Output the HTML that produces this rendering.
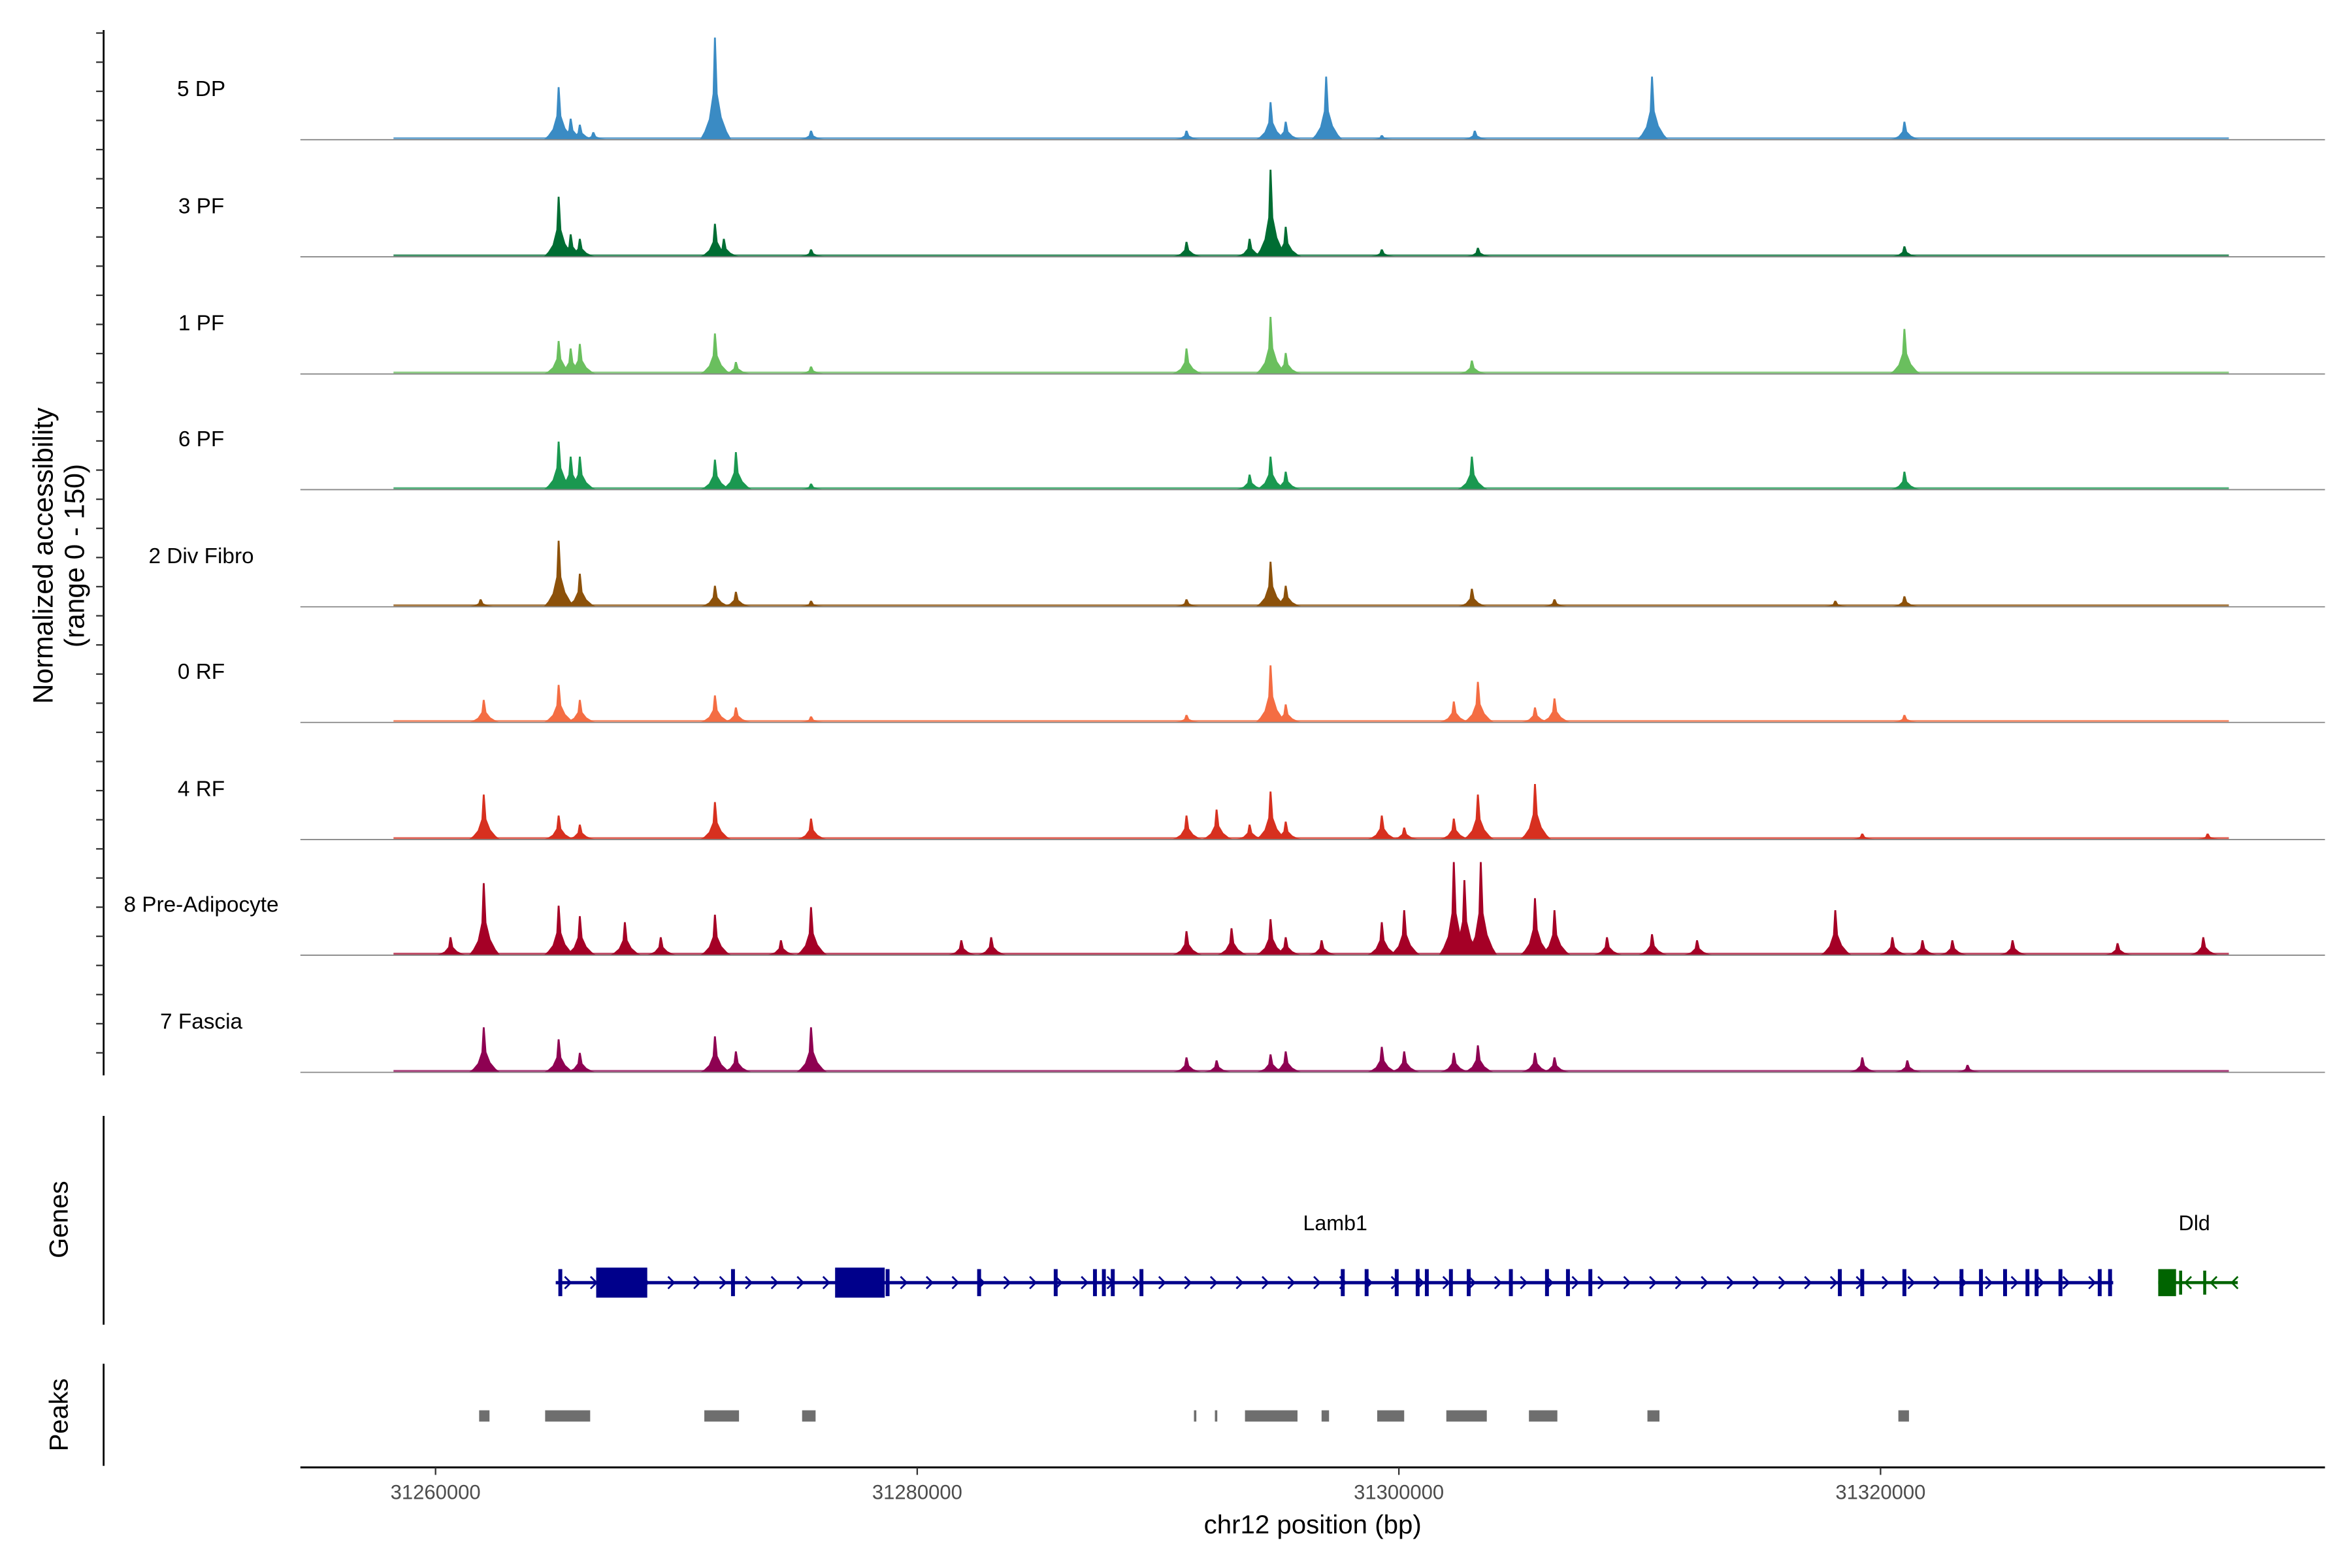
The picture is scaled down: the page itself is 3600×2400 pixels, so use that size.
<!DOCTYPE html>
<html><head><meta charset="utf-8"><style>
html,body{margin:0;padding:0;background:#fff;}
svg{display:block;font-family:"Liberation Sans",Arial,sans-serif;}
</style></head><body>
<svg id="chart" width="3600" height="2400" viewBox="0 0 1566 1044" preserveAspectRatio="none" xmlns="http://www.w3.org/2000/svg">
<rect width="1566" height="1044" fill="#fff"/>
<g id="tracks"></g>
<g id="genes"></g>
<g id="peaks"></g>
<g id="axes"></g>
</svg>
<script>
// ---- data (positions in kb, values normalized 0-150) ----
const trackNames = ["5 DP","3 PF","1 PF","6 PF","2 Div Fibro","0 RF","4 RF","8 Pre-Adipocyte","7 Fascia"];
const trackColors = ["#3a8bc4","#006d33","#6abf5e","#1a9850","#8c510a","#f46d43","#d7301f","#a50026","#8e0152"];
const pos5DP = [31265.11,31265.61,31265.99,31266.55,31271.60,31275.59,31291.18,31294.67,31295.30,31296.98,31299.29,31303.15,31310.51,31320.99];
const val5DP = [70,28,20,10,136,12,12,50,24,84,6,12,84,24];
const pos3PF = [31265.11,31265.61,31265.99,31271.60,31271.97,31275.59,31291.18,31293.80,31294.67,31295.30,31299.29,31303.28,31320.99];
const val3PF = [80,30,24,44,24,10,20,24,116,40,10,12,14];
const pos1PF = [31265.11,31265.61,31265.99,31271.60,31272.47,31275.59,31291.18,31294.67,31295.30,31303.03,31320.99];
const val1PF = [44,34,40,54,16,10,34,76,28,18,60];
const pos6PF = [31265.11,31265.61,31265.99,31271.60,31272.47,31275.59,31293.80,31294.67,31295.30,31303.03,31320.99];
const val6PF = [64,44,44,40,50,8,20,44,24,44,24];
const pos2Div = [31261.87,31265.11,31265.99,31271.60,31272.47,31275.59,31291.18,31294.67,31295.30,31303.03,31306.46,31318.12,31320.99];
const val2Div = [10,88,44,28,20,8,10,60,28,24,10,8,14];
const pos0RF = [31262.00,31265.11,31265.99,31271.60,31272.47,31275.59,31291.18,31294.67,31295.30,31302.28,31303.28,31305.65,31306.46,31320.99];
const val0RF = [30,50,30,36,20,8,10,76,24,28,54,20,32,10];
const pos4RF = [31262.00,31265.11,31265.99,31271.60,31275.59,31291.18,31292.43,31293.80,31294.67,31295.30,31299.29,31300.22,31302.28,31303.28,31305.65,31319.24,31333.58];
const val4RF = [60,32,20,50,28,32,40,20,64,24,32,16,28,60,74,8,8];
const pos8PA = [31260.62,31262.00,31265.11,31265.99,31267.86,31269.35,31271.60,31274.34,31275.59,31281.83,31283.07,31291.18,31293.05,31294.67,31295.30,31296.79,31299.29,31300.22,31302.28,31302.72,31303.40,31305.65,31306.46,31308.64,31310.51,31312.38,31318.12,31320.49,31321.74,31322.98,31325.48,31329.84,31333.40];
const val8PA = [24,96,66,52,44,24,54,20,64,20,24,32,36,48,24,20,44,60,124,100,124,76,60,24,28,20,60,24,20,20,20,16,24];
const pos7Fa = [31262.00,31265.11,31265.99,31271.60,31272.47,31275.59,31291.18,31292.43,31294.67,31295.30,31299.29,31300.22,31302.28,31303.28,31305.65,31306.46,31319.24,31321.11,31323.61];
const val7Fa = [60,44,26,48,28,60,20,16,24,28,34,28,26,36,26,20,20,16,10];
const trackPos = [pos5DP,pos3PF,pos1PF,pos6PF,pos2Div,pos0RF,pos4RF,pos8PA,pos7Fa];
const trackVal = [val5DP,val3PF,val1PF,val6PF,val2Div,val0RF,val4RF,val8PA,val7Fa];
const xTicks = [31260000,31280000,31300000,31320000];
const xTickLabels = ["31260000","31280000","31300000","31320000"];
const geneSpan = [31264.99,31329.66];
const geneBigExonsStart = [31266.67,31276.59];
const geneBigExonsEnd = [31268.79,31278.65];
const geneExons = [31265.18,31272.35,31278.77,31282.57,31285.75,31287.38,31287.75,31288.12,31289.31,31297.67,31298.66,31299.91,31300.78,31301.16,31302.16,31302.90,31304.65,31306.15,31307.02,31307.95,31318.31,31319.24,31320.99,31323.36,31324.17,31325.17,31326.10,31326.48,31327.47,31329.10,31329.53];
const dldSpan = [31331.53,31334.83];
const dldExon = [31331.53,31332.27];
const dldSmall = [31332.46,31333.46];
const peakStart = [31261.81,31264.55,31271.16,31275.22,31291.49,31292.36,31293.61,31296.79,31299.10,31301.97,31305.40,31310.32,31320.74];
const peakEnd = [31262.24,31266.42,31272.60,31275.78,31291.59,31292.46,31295.79,31297.10,31300.22,31303.65,31306.58,31310.82,31321.18];

// ---- scales ----
const NS="http://www.w3.org/2000/svg";
function x(kb){return 290+(kb-31260)*16.035;}
function xbp(bp){return x(bp/1000);}
const baseY=[93,171,249,326,404,481,559,636,714];
function yh(v){return v*0.5;}
function mk(tag,attrs,parent){const e=document.createElementNS(NS,tag);for(const k in attrs)e.setAttribute(k,attrs[k]);parent.appendChild(e);return e;}

const tracksG=document.getElementById('tracks');
trackNames.forEach((nm,i)=>{
  const g=mk('g',{},tracksG);
  
  
  const b=baseY[i];
  const bg=mk('rect',{x:262,y:b-1.6,width:1222,height:1.6,fill:trackColors[i],opacity:0.75},g);
  
  
  trackPos[i].forEach((p,j)=>{
    const cx=x(p),h=yh(trackVal[i][j]);
    const pts=[[cx-10,b],[cx-7,b-h*0.08],[cx-4,b-h*0.2],[cx-1.5,b-h*0.45],[cx-0.6,b-h],[cx+0.6,b-h],[cx+1.8,b-h*0.45],[cx+4.5,b-h*0.22],[cx+8,b-h*0.08],[cx+11,b]].map(q=>q.join(',')).join(' ');
    const pk=mk('polygon',{points:pts,fill:trackColors[i]},g);
    
    
  });
  const bl=mk('line',{x1:200,x2:1548,y1:b,y2:b,stroke:'#888','stroke-width':0.8},g);
  
  
  const t=mk('text',{x:134,y:b-29,'text-anchor':'middle','font-size':14.5,fill:'#000'},g);
  t.textContent=nm;
  
  
});

// ---- genes ----
const gG=document.getElementById('genes');
const gy=854;
const gl=mk('line',{x1:x(geneSpan[0]),x2:x(geneSpan[1]),y1:gy,y2:gy,stroke:'#00008b','stroke-width':2.2},gG);


for(let cx=x(geneSpan[0])+8;cx<x(geneSpan[1])-4;cx+=17.2){
  const c=mk('polyline',{points:`${cx-2},${gy-4} ${cx+2},${gy} ${cx-2},${gy+4}`,fill:'none',stroke:'#00008b','stroke-width':1.2},gG);
  
  
}
geneBigExonsStart.forEach((s,i)=>{
  const r=mk('rect',{x:x(s),y:gy-10,width:x(geneBigExonsEnd[i])-x(s),height:20,fill:'#00008b'},gG);
  
  
});
geneExons.forEach(p=>{
  const r=mk('rect',{x:x(p)-1.3,y:gy-9,width:2.6,height:18,fill:'#00008b'},gG);
  
  
});
const dl=mk('line',{x1:x(dldSpan[0]),x2:x(dldSpan[1]),y1:gy,y2:gy,stroke:'#006400','stroke-width':2},gG);


const de=mk('rect',{x:x(dldExon[0]),y:gy-9,width:x(dldExon[1])-x(dldExon[0]),height:18,fill:'#006400'},gG);


dldSmall.forEach(p=>{
  const r=mk('rect',{x:x(p)-1,y:gy-8,width:2,height:16,fill:'#006400'},gG);
  
  
});
[1457,1474,1488].forEach(cx=>{
  const c=mk('polyline',{points:`${cx+2},${gy-4} ${cx-2},${gy} ${cx+2},${gy+4}`,fill:'none',stroke:'#006400','stroke-width':1.2},gG);
  
  
});
const l1=mk('text',{x:889,y:819,'text-anchor':'middle','font-size':14,fill:'#000'},gG);
l1.textContent='Lamb1';


const l2=mk('text',{x:1461,y:819,'text-anchor':'middle','font-size':14,fill:'#000'},gG);
l2.textContent='Dld';



// ---- peaks ----
const pG=document.getElementById('peaks');
peakStart.forEach((s,i)=>{
  const w=Math.max(1.2,x(peakEnd[i])-x(s));
  const r=mk('rect',{x:x(s),y:939,width:w,height:7.5,fill:'#6e6e6e'},pG);
  
  
});

// ---- axes ----
const aG=document.getElementById('axes');
const ya=mk('line',{x1:69,x2:69,y1:20,y2:716,stroke:'#000','stroke-width':1.2},aG);


for(let i=0;i<36;i++){
  const ty=22+i*19.4;
  const t=mk('line',{x1:64,x2:69,y1:ty,y2:ty,stroke:'#333','stroke-width':1},aG);
  
  
}
const yt=mk('text',{transform:'translate(35,370) rotate(-90)','text-anchor':'middle','font-size':18.5,fill:'#000'},aG);
yt.textContent='Normalized accessibility';


const yt2=mk('text',{transform:'translate(56,370) rotate(-90)','text-anchor':'middle','font-size':18.5,fill:'#000'},aG);
yt2.textContent='(range 0 - 150)';


const ga=mk('line',{x1:69,x2:69,y1:743,y2:882,stroke:'#000','stroke-width':1.2},aG);


const gt=mk('text',{transform:'translate(45,812) rotate(-90)','text-anchor':'middle','font-size':17.5,fill:'#000'},aG);
gt.textContent='Genes';


const pa=mk('line',{x1:69,x2:69,y1:908,y2:976,stroke:'#000','stroke-width':1.2},aG);


const pt=mk('text',{transform:'translate(45,942) rotate(-90)','text-anchor':'middle','font-size':17.5,fill:'#000'},aG);
pt.textContent='Peaks';


const xa=mk('line',{x1:200,x2:1548,y1:977,y2:977,stroke:'#000','stroke-width':1.3},aG);


xTicks.forEach((v,i)=>{
  const tx=xbp(v);
  const t=mk('line',{x1:tx,x2:tx,y1:977,y2:982,stroke:'#333','stroke-width':1},aG);
  
  
  const l=mk('text',{x:tx,y:998,'text-anchor':'middle','font-size':13.5,fill:'#4d4d4d'},aG);
  l.textContent=xTickLabels[i];
  
  
});
const xt=mk('text',{x:874,y:1021,'text-anchor':'middle','font-size':17.5,fill:'#000'},aG);
xt.textContent='chr12 position (bp)';


</script>
</body></html>
